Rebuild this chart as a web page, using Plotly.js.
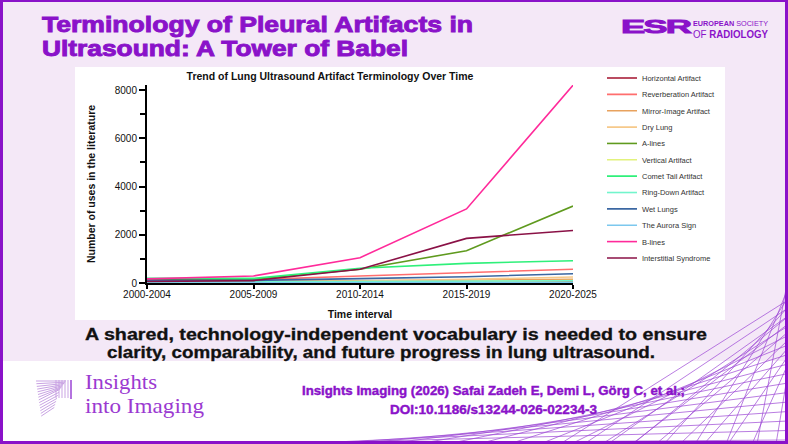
<!DOCTYPE html>
<html>
<head>
<meta charset="utf-8">
<script src="https://cdn.plot.ly/plotly-3.0.1.min.js"></script>
<style>
  html, body { margin: 0; padding: 0; }
  body { width: 788px; height: 444px; overflow: hidden; position: relative; background: #ffffff; font-family: 'Liberation Sans', Arial, sans-serif; }
  .abs { position: absolute; white-space: nowrap; }
  #bgTop { left: 0; top: 0; width: 788px; height: 361px; background: #f4e8f7; }
  #bgBot { left: 0; top: 361px; width: 788px; height: 83px; background: #ffffff; }
  #frame { left: 0; top: 0; width: 788px; height: 444px; box-sizing: border-box; border: 3px solid #8a12c9; border-top-width: 2px; pointer-events: none; }
  #deco { left: 0; top: 0; }
  .ttl { color: #8a12c9; font-weight: 700; font-size: 21.5px; line-height: 24px; -webkit-text-stroke: 0.9px #8a12c9; }
  #t1 { left: 42px; top: 13px; }
  #t2 { left: 42px; top: 37px; }
  #esrLogo { left: 621px; top: 17px; color: #8a12c9; font-weight: 900; font-size: 19px; line-height: 20px; letter-spacing: -1px; -webkit-text-stroke: 0.9px #8a12c9; }
  .esr { color: #8a12c9; }
  #e1 { left: 693px; top: 19px; font-size: 8px; line-height: 9px; }
  #e2 { left: 693px; top: 29px; font-size: 10px; line-height: 11px; }
  #chart { left: 75px; top: 67px; width: 650px; height: 253px; }
  .sub { color: #111; font-weight: 700; font-size: 15.6px; line-height: 17.5px; -webkit-text-stroke: 0.3px #111; }
  #s1 { left: 85px; top: 326px; }
  #s2 { left: 107px; top: 343.5px; }
  .ins { color: #9b3ad1; font-family: 'Liberation Serif', 'DejaVu Serif', serif; font-size: 21px; line-height: 23.5px; }
  #i1 { left: 85px; top: 371px; }
  #i2 { left: 85px; top: 394.5px; }
  .cite { color: #8a12c9; font-weight: 700; font-size: 12px; line-height: 15px; -webkit-text-stroke: 0.4px #8a12c9; }
  #c1 { left: 302px; top: 384px; }
  #c2 { left: 390px; top: 403px; }
</style>
</head>
<body>
<div id="bgTop" class="abs"></div>
<div id="bgBot" class="abs"></div>
<svg id="deco" class="abs" width="788" height="444"></svg>
<div id="t1" class="abs ttl">Terminology of Pleural Artifacts in</div>
<div id="t2" class="abs ttl">Ultrasound: A Tower of Babel</div>
<div id="esrLogo" class="abs">ESR</div>
<div id="e1" class="abs esr"><b>EUROPEAN</b> SOCIETY</div>
<div id="e2" class="abs esr">OF <b>RADIOLOGY</b></div>
<div id="chart" class="abs"></div>
<div id="s1" class="abs sub">A shared, technology-independent vocabulary is needed to ensure</div>
<div id="s2" class="abs sub">clarity, comparability, and future progress in lung ultrasound.</div>
<div id="i1" class="abs ins">Insights</div>
<div id="i2" class="abs ins">into Imaging</div>
<div id="c1" class="abs cite">Insights Imaging (2026) Safai Zadeh E, Demi L, Görg C, et al.;</div>
<div id="c2" class="abs cite">DOI:10.1186/s13244-026-02234-3</div>
<div id="frame" class="abs"></div>
<script>
// ---- data ----
const categories = ['2000-2004', '2005-2009', '2010-2014', '2015-2019', '2020-2025'];
const seriesNames = ['Horizontal Artifact', 'Reverberation Artifact', 'Mirror-Image Artifact', 'Dry Lung', 'A-lines',
  'Vertical Artifact', 'Comet Tail Artifact', 'Ring-Down Artifact', 'Wet Lungs', 'The Aurora Sign', 'B-lines', 'Interstitial Syndrome'];
const horizontalArtifact = [15, 20, 30, 40, 45];
const reverberationArtifact = [90, 140, 290, 430, 570];
const mirrorImageArtifact = [40, 60, 90, 120, 150];
const dryLung = [20, 40, 80, 150, 250];
const aLines = [150, 160, 570, 1340, 3190];
const verticalArtifact = [10, 15, 30, 60, 100];
const cometTailArtifact = [200, 190, 610, 815, 925];
const ringDownArtifact = [30, 40, 60, 80, 95];
const wetLungs = [110, 110, 180, 260, 385];
const auroraSign = [0, 0, 5, 10, 20];
const bLines = [170, 290, 1050, 3070, 8200];
const interstitialSyndrome = [60, 100, 570, 1850, 2180];
const seriesColors = ['#a3102c', '#ff6e6e', '#e8a25e', '#f6c98a', '#5f9a1e', '#e2f27c',
  '#2ff07a', '#72f5cc', '#3b67a2', '#7cc8ee', '#ff2a9a', '#8a1146'];

const seriesValues = [horizontalArtifact, reverberationArtifact, mirrorImageArtifact, dryLung, aLines,
  verticalArtifact, cometTailArtifact, ringDownArtifact, wetLungs, auroraSign, bLines, interstitialSyndrome];

const fontFam = "'Liberation Sans', Arial, sans-serif";
const legendKey = i => (i === 0 ? 'legend' : 'legend' + (i + 1));

const traces = seriesNames.map((name, i) => ({
  type: 'scatter', mode: 'lines', name: name,
  x: categories, y: seriesValues[i],
  line: { color: seriesColors[i], width: 1.6 },
  legend: legendKey(i),
  hoverinfo: 'skip'
}));

const layout = {
  width: 650, height: 253,
  margin: { l: 72, r: 152, t: 18, b: 37 },
  paper_bgcolor: '#ffffff', plot_bgcolor: '#ffffff',
  font: { family: fontFam, color: '#111' },
  title: { text: '<b>Trend of Lung Ultrasound Artifact Terminology Over Time</b>',
    font: { family: fontFam, size: 10.5, color: '#111' },
    x: 255 / 650, xref: 'container', xanchor: 'center', y: 1 - 9 / 253, yref: 'container', yanchor: 'middle' },
  xaxis: {
    type: 'category', range: [0, 4], showgrid: false, zeroline: false,
    showline: true, linecolor: '#000', linewidth: 2,
    ticks: 'outside', ticklen: 4, tickwidth: 2, tickcolor: '#000', ticklabelstandoff: -3,
    tickfont: { family: fontFam, size: 10, color: '#111' },
    title: { text: '<b>Time interval</b>', font: { family: fontFam, size: 10.5, color: '#111' }, standoff: 12 },
    fixedrange: true
  },
  yaxis: {
    range: [0, 8210], tick0: 0, dtick: 2000, showgrid: false, zeroline: false,
    showline: true, linecolor: '#000', linewidth: 2,
    ticks: 'outside', ticklen: 6, tickwidth: 2, tickcolor: '#000',
    minor: { dtick: 1000, tick0: 0, ticks: 'outside', ticklen: 5, tickwidth: 2, tickcolor: '#000', showgrid: false },
    tickfont: { family: fontFam, size: 10, color: '#111' },
    title: { text: '<b>Number of uses in the literature</b>', font: { family: fontFam, size: 10.5, color: '#111' }, standoff: 17 },
    fixedrange: true
  },
  showlegend: true
};

// one single-entry legend per series so the entries can sit at the reference spacing
seriesNames.forEach((name, i) => {
  layout[legendKey(i)] = {
    x: 527 / 650, xref: 'container', xanchor: 'left',
    y: 1 - (11 + i * 16.36) / 253, yref: 'container', yanchor: 'middle',
    font: { family: fontFam, size: 7.5, color: '#333' },
    bgcolor: 'rgba(0,0,0,0)', borderwidth: 0, itemwidth: 30
  };
});

Plotly.newPlot('chart', traces, layout, { displayModeBar: false, staticPlot: true });

// ---- stretch poster texts horizontally to the widths seen in the reference ----
function fitWidth(id, w) {
  const el = document.getElementById(id);
  el.style.transform = 'none';
  const r = el.getBoundingClientRect();
  el.style.transformOrigin = 'left top';
  el.style.transform = 'scaleX(' + (w / r.width) + ')';
}
function fitAll() {
  fitWidth('t1', 431); fitWidth('t2', 366);
  fitWidth('esrLogo', 69);
  fitWidth('e1', 75); fitWidth('e2', 75);
  fitWidth('s1', 622); fitWidth('s2', 548);
  fitWidth('i1', 72); fitWidth('i2', 119);
  fitWidth('c1', 383); fitWidth('c2', 207);
}
fitAll();
if (document.fonts && document.fonts.ready) document.fonts.ready.then(fitAll);

// ---- decorative string-art lines (poster ornament, not data) ----
(function () {
  const svg = document.getElementById('deco');
  const ns = 'http://www.w3.org/2000/svg';
  function ln(x1, y1, x2, y2, c, w) {
    const l = document.createElementNS(ns, 'line');
    l.setAttribute('x1', x1); l.setAttribute('y1', y1); l.setAttribute('x2', x2); l.setAttribute('y2', y2);
    l.setAttribute('stroke', c); l.setAttribute('stroke-width', w);
    svg.appendChild(l);
  }
  const n = 18;
  for (let i = 0; i < n; i++) {
    ln(230 + i * 31, 444, 788, 440 - i * 9.5, '#9b45d4', 0.7);
  }
  for (let i = 0; i < 10; i++) {
    ln(560 + i * 24, 444, 788, 300 + i * 8, '#9b45d4', 0.7);
  }
  // Insights into Imaging icon
  for (let i = 0; i < 14; i++) {
    ln(36 + i * 0.4, 381 + i * 2.7, 66 - i * 0.9, 381 + i * 1.2 + (i > 7 ? (i - 7) * 1.8 : 0), '#c9a3e3', 1);
  }
  for (let i = 0; i < 5; i++) {
    ln(56 + i * 3, 380, 56 + i * 3, 398, '#c9a3e3', 1);
  }
  ln(71, 380, 71, 399, '#9b45d4', 1.5);
})();
</script>
</body>
</html>
